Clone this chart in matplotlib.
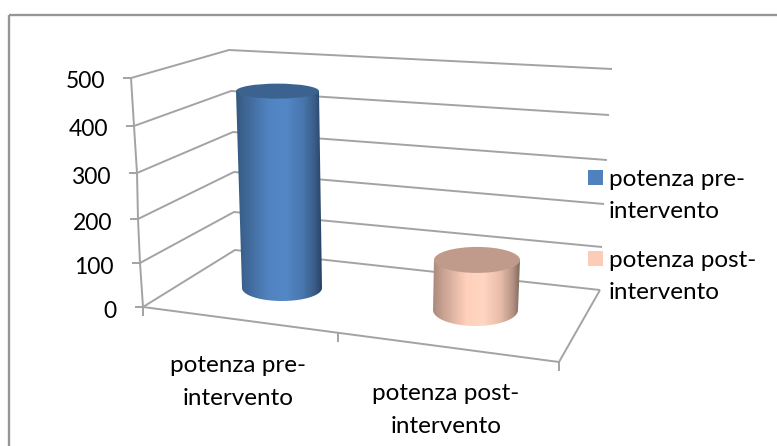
import numpy as np
import matplotlib
matplotlib.use("Agg")
import matplotlib.pyplot as plt
from matplotlib.patches import Ellipse, PathPatch, Rectangle
from matplotlib.path import Path
from matplotlib.colors import LinearSegmentedColormap, to_rgb

plt.rcParams["font.family"] = ["Lato", "DejaVu Sans"]

# Chart data
categories = ["potenza pre-\nintervento", "potenza post-\nintervento"]
values = [460, 117]
series_colors = ["#4f81bd", "#fcccb8"]
tick_values = [0, 100, 200, 300, 400, 500]

# Pixel layout of the fake 3D box, one entry per tick
front_x = [143, 140, 138, 137, 134, 131]
front_y = [307, 263, 219, 173, 126, 78]
back_x = [235, 234, 234, 233, 231, 229]
back_y = [250, 212, 172, 132, 91, 50]
right_x = [600, 602, 604, 607, 609, 612]
right_y = [290, 247, 204, 160, 115, 69]

GRID = "#a3a3a3"
FONT = 17.5
SPACING = 1.65
W, H = 777, 446

fig = plt.figure(figsize=(W / 100, H / 100), dpi=100)
ax = fig.add_axes([0, 0, 1, 1])
ax.set_xlim(0, W)
ax.set_ylim(H, 0)
ax.axis("off")

# Chart frame, only the top and left edges are in the crop
ax.add_patch(Rectangle((8.5, 14.5), 790, 460, fill=False, ec="#969696", lw=1.7))


def line(xs, ys, lw=1.4):
    ax.plot(xs, ys, color=GRID, lw=lw, solid_capstyle="butt", zorder=1)


# Walls and gridlines
for i, tick in enumerate(tick_values):
    line([front_x[i] - 8, front_x[i], back_x[i], right_x[i]],
         [front_y[i], front_y[i], back_y[i], right_y[i]])
    ax.text(front_x[i] - 26, front_y[i] + 4, str(tick), ha="right", va="center",
            fontsize=16.5, color="black")
line(front_x, front_y)

# Floor with the category axis in front
floor_front = (143, 307)
floor_end = (559, 362)
line([floor_front[0], floor_end[0], right_x[0]], [floor_front[1], floor_end[1], right_y[0]])
line([floor_front[0], floor_front[0]], [floor_front[1], floor_front[1] + 9])
line([338, 338], [333, 342])
line([floor_end[0], floor_end[0]], [floor_end[1], floor_end[1] + 9])


def shade(color, amount):
    return tuple(np.clip(np.array(to_rgb(color)) * amount, 0, 1))


def cylinder(value, color, base, top_w, base_w, top_cx, top_ry, base_ry, px_per_unit=0.428):
    base_cx, base_y = base
    top_y = base_y - value * px_per_unit
    verts = [(top_cx - top_w / 2, top_y), (base_cx - base_w / 2, base_y)]
    theta = np.linspace(np.pi, 0, 40)
    verts += list(zip(base_cx + base_w / 2 * np.cos(theta), base_y + base_ry * np.sin(theta)))
    verts += [(top_cx + top_w / 2, top_y), verts[0]]
    body = Path(verts)

    stops = [(0, 0.68), (0.12, 0.8), (0.38, 1.02), (0.58, 1.05), (0.78, 0.92), (0.92, 0.72), (1, 0.52)]
    cmap = LinearSegmentedColormap.from_list("body", [(p, shade(color, s)) for p, s in stops])
    xs, ys = body.vertices[:, 0], body.vertices[:, 1]
    img = ax.imshow(np.linspace(0, 1, 128)[None, :], cmap=cmap, aspect="auto",
                    extent=(xs.min(), xs.max(), ys.max(), ys.min()), zorder=3)
    img.set_clip_path(PathPatch(body, transform=ax.transData))
    ax.add_patch(Ellipse((top_cx, top_y), top_w, 2 * top_ry, fc=shade(color, 0.76), ec="none", zorder=4))


cylinder(values[0], series_colors[0], (282, 288), 83, 80, 277.5, 7.5, 13)
cylinder(values[1], series_colors[1], (475.5, 310), 86, 85, 477, 13, 16)
ax.set_xlim(0, W)
ax.set_ylim(H, 0)

# Category labels
ax.text(238, 382, categories[0], ha="center", va="center", fontsize=FONT, linespacing=SPACING)
ax.text(446, 410, categories[1], ha="center", va="center", fontsize=FONT, linespacing=SPACING)

# Legend
for color, label, y in zip(series_colors, categories, [177.5, 258.5]):
    ax.add_patch(Rectangle((588, y - 7.5), 15, 15, fc=color, ec="none", zorder=5))
    ax.text(609, y + 18, label, ha="left", va="center", fontsize=FONT, linespacing=SPACING)

fig.savefig("out.png", dpi=100)
